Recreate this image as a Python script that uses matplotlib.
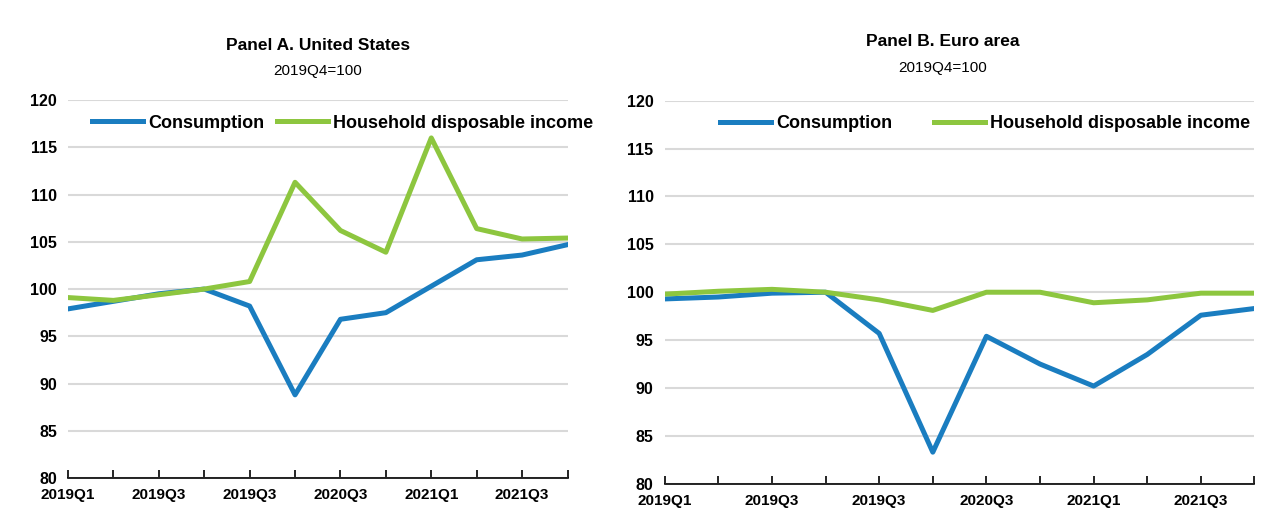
import matplotlib.pyplot as plt

plt.rcParams['font.family'] = ['Liberation Sans', 'DejaVu Sans']

quarters = list(range(12))
tick_labels = ['2019Q1', '', '2019Q3', '', '2019Q3', '', '2020Q3', '', '2021Q1', '', '2021Q3', '']

us_consumption = [97.9, 98.7, 99.5, 100.0, 98.2, 88.8, 96.8, 97.5, 100.3, 103.1, 103.6, 104.7]
us_income = [99.1, 98.8, 99.4, 100.0, 100.8, 111.3, 106.2, 103.9, 116.0, 106.4, 105.3, 105.4]

ea_consumption = [99.3, 99.5, 99.9, 100.0, 95.7, 83.3, 95.4, 92.5, 90.2, 93.5, 97.6, 98.3]
ea_income = [99.8, 100.1, 100.3, 100.0, 99.2, 98.1, 100.0, 100.0, 98.9, 99.2, 99.9, 99.9]

blue = '#1a7dc0'
green = '#8dc63f'

fig = plt.figure(figsize=(12.71, 5.27), dpi=100)
ax1 = fig.add_axes([0.0535, 0.093, 0.393, 0.717])
ax2 = fig.add_axes([0.523, 0.082, 0.464, 0.727])

panels = [
    (ax1, us_consumption, us_income, 'Panel A. United States', 0.25, 0.905, 0.02, 0.7),
    (ax2, ea_consumption, ea_income, 'Panel B. Euro area', 0.742, 0.912, 0.07, 2.3),
]

for ax, cons, inc, title, tx, ty, lx, cs in panels:
    ax.plot(quarters, cons, color=blue, lw=3.6, label='Consumption')
    ax.plot(quarters, inc, color=green, lw=3.6, label='Household disposable income')
    ax.set_xlim(0, 11)
    ax.set_ylim(80, 120)
    ax.set_yticks(range(80, 121, 5))
    ax.set_xticks(quarters)
    ax.set_xticklabels(tick_labels)
    ax.tick_params(axis='x', direction='in', length=6, width=1.2, color='black', pad=7, labelsize=11)
    ax.tick_params(axis='y', length=0, labelsize=11.5, pad=8)
    for lab in ax.get_xticklabels() + ax.get_yticklabels():
        lab.set_fontweight('bold')
    ax.grid(axis='y', color='#d9d9d9', lw=1.5)
    ax.set_axisbelow(True)
    for s in ['top', 'right', 'left']:
        ax.spines[s].set_visible(False)
    ax.spines['bottom'].set_linewidth(1.2)
    ax.spines['bottom'].set_zorder(3)
    ax.legend(loc='upper left', bbox_to_anchor=(lx, 1.0), ncol=2, frameon=False,
              handlelength=2.8, handletextpad=0.3, columnspacing=cs, borderpad=0.3,
              prop={'weight': 'bold', 'size': 13})
    fig.text(tx, ty, title, ha='center', fontsize=12.5, fontweight='bold')
    fig.text(tx, ty - 0.048, '2019Q4=100', ha='center', fontsize=11)

fig.savefig('out.png', dpi=100)
